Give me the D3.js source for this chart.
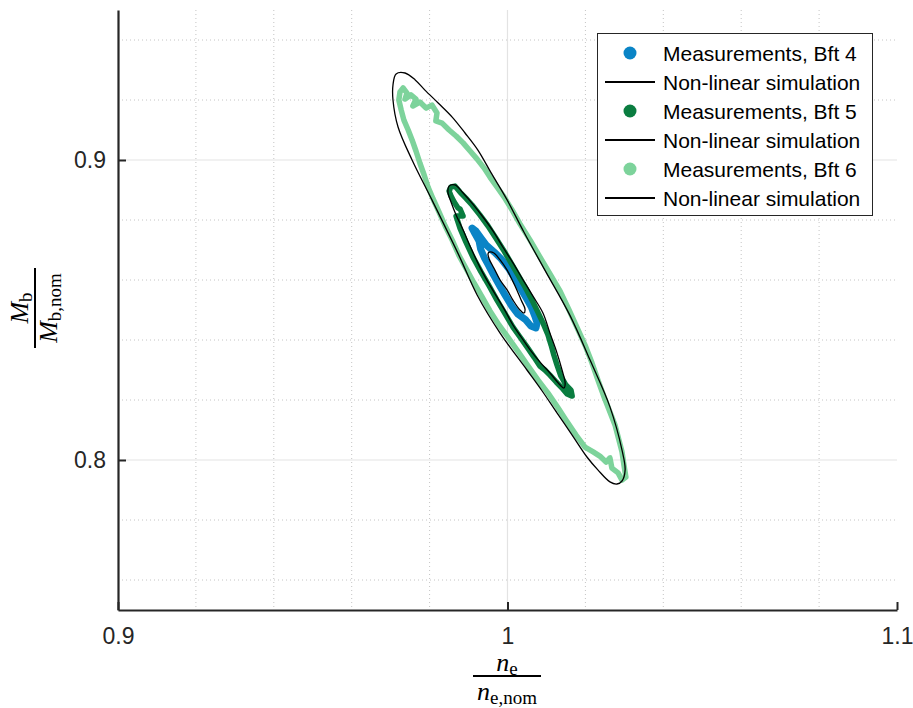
<!DOCTYPE html>
<html><head><meta charset="utf-8">
<script src="https://cdn.jsdelivr.net/npm/d3@7"></script>
<style>body{margin:0;background:#fff} svg{display:block}</style>
</head><body>
<svg id="chart" width="913" height="708"></svg>
<script>
// ---------- data ----------
const xTicks = [0.9, 1.0, 1.1];
const xTickLabels = ["0.9", "1", "1.1"];
const yTicks = [0.8, 0.9];
const yTickLabels = ["0.8", "0.9"];
const xMinor = [0.92, 0.94, 0.96, 0.98, 1.02, 1.04, 1.06, 1.08];
const yMinor = [0.76, 0.78, 0.82, 0.84, 0.86, 0.88, 0.92, 0.94];
const legendLabels = ["Measurements, Bft 4", "Non-linear simulation", "Measurements, Bft 5", "Non-linear simulation", "Measurements, Bft 6", "Non-linear simulation"];
const measColors = ["#0a84c6", "#0a7d40", "#7dd39b"];

// Measurements Bft 4 (n_e/n_e,nom, M_b/M_b,nom)
const meas4 = [[0.9909,0.8773],[0.9919,0.8763],[0.9932,0.8740],[0.9945,0.8717],[0.9966,0.8693],[0.9984,0.8670],[1.0002,0.8640],[1.0018,0.8607],[1.0033,0.8573],[1.0048,0.8540],[1.0061,0.8510],[1.0070,0.8480],[1.0076,0.8457],[1.0073,0.8440],[1.0060,0.8447],[1.0047,0.8467],[1.0026,0.8487],[1.0011,0.8513],[0.9995,0.8547],[0.9980,0.8580],[0.9964,0.8617],[0.9952,0.8647],[0.9941,0.8673],[0.9931,0.8703],[0.9927,0.8730],[0.9917,0.8753]];
// Non-linear simulation Bft 4
const sim4 = [[0.9953,0.8693],[0.9965,0.8690],[0.9981,0.8667],[0.9999,0.8633],[1.0012,0.8600],[1.0024,0.8567],[1.0035,0.8533],[1.0045,0.8503],[1.0042,0.8490],[1.0032,0.8500],[1.0014,0.8533],[0.9999,0.8567],[0.9981,0.8600],[0.9965,0.8640],[0.9953,0.8670],[0.9950,0.8687]];
// Measurements Bft 5
const meas5 = [[0.9855,0.8910],[0.9865,0.8913],[0.9878,0.8893],[0.9893,0.8873],[0.9909,0.8850],[0.9929,0.8817],[0.9950,0.8780],[0.9970,0.8740],[0.9991,0.8697],[1.0009,0.8657],[1.0027,0.8617],[1.0045,0.8577],[1.0063,0.8533],[1.0078,0.8493],[1.0091,0.8457],[1.0104,0.8417],[1.0112,0.8383],[1.0119,0.8350],[1.0127,0.8317],[1.0137,0.8280],[1.0150,0.8250],[1.0163,0.8233],[1.0166,0.8213],[1.0153,0.8220],[1.0142,0.8237],[1.0125,0.8260],[1.0109,0.8283],[1.0096,0.8300],[1.0083,0.8313],[1.0068,0.8343],[1.0050,0.8377],[1.0032,0.8410],[1.0014,0.8443],[0.9994,0.8487],[0.9973,0.8533],[0.9953,0.8580],[0.9932,0.8627],[0.9911,0.8677],[0.9893,0.8727],[0.9878,0.8773],[0.9868,0.8813],[0.9886,0.8813],[0.9878,0.8837],[0.9873,0.8840],[0.9863,0.8860],[0.9855,0.8880],[0.9850,0.8897]];
// Non-linear simulation Bft 5
const sim5 = [[0.9850,0.8913],[0.9865,0.8917],[0.9886,0.8890],[0.9911,0.8853],[0.9937,0.8810],[0.9963,0.8763],[0.9988,0.8710],[1.0014,0.8657],[1.0040,0.8600],[1.0065,0.8547],[1.0091,0.8490],[1.0109,0.8423],[1.0127,0.8357],[1.0140,0.8300],[1.0148,0.8257],[1.0145,0.8240],[1.0135,0.8250],[1.0109,0.8290],[1.0083,0.8327],[1.0058,0.8367],[1.0035,0.8410],[1.0014,0.8450],[0.9994,0.8497],[0.9973,0.8543],[0.9950,0.8593],[0.9929,0.8643],[0.9906,0.8707],[0.9886,0.8767],[0.9868,0.8817],[0.9855,0.8860],[0.9847,0.8893]];
// Measurements Bft 6
const meas6 = [[0.9721,0.9200],[0.9724,0.9227],[0.9732,0.9240],[0.9742,0.9223],[0.9737,0.9203],[0.9752,0.9217],[0.9765,0.9203],[0.9757,0.9180],[0.9775,0.9193],[0.9791,0.9173],[0.9806,0.9183],[0.9819,0.9157],[0.9816,0.9130],[0.9832,0.9123],[0.9850,0.9100],[0.9868,0.9080],[0.9886,0.9057],[0.9904,0.9030],[0.9922,0.9003],[0.9940,0.8973],[0.9955,0.8943],[0.9973,0.8910],[0.9991,0.8877],[1.0012,0.8833],[1.0032,0.8787],[1.0058,0.8733],[1.0083,0.8677],[1.0109,0.8620],[1.0135,0.8563],[1.0158,0.8500],[1.0178,0.8443],[1.0199,0.8383],[1.0217,0.8323],[1.0232,0.8267],[1.0248,0.8210],[1.0263,0.8160],[1.0276,0.8117],[1.0286,0.8067],[1.0294,0.8027],[1.0299,0.7983],[1.0304,0.7943],[1.0294,0.7933],[1.0284,0.7957],[1.0268,0.7973],[1.0263,0.8007],[1.0253,0.7993],[1.0237,0.8013],[1.0220,0.8027],[1.0199,0.8043],[1.0176,0.8083],[1.0150,0.8133],[1.0130,0.8173],[1.0104,0.8223],[1.0078,0.8267],[1.0053,0.8313],[1.0024,0.8367],[0.9999,0.8413],[0.9978,0.8450],[0.9955,0.8497],[0.9935,0.8543],[0.9914,0.8590],[0.9893,0.8640],[0.9875,0.8683],[0.9858,0.8733],[0.9840,0.8780],[0.9824,0.8827],[0.9809,0.8870],[0.9796,0.8910],[0.9786,0.8950],[0.9775,0.8990],[0.9765,0.9030],[0.9755,0.9067],[0.9745,0.9100],[0.9734,0.9133],[0.9727,0.9167]];
// Non-linear simulation Bft 6
const sim6 = [[0.9714,0.9287],[0.9737,0.9290],[0.9763,0.9267],[0.9788,0.9233],[0.9822,0.9190],[0.9858,0.9143],[0.9891,0.9090],[0.9924,0.9033],[0.9958,0.8957],[0.9999,0.8867],[1.0042,0.8760],[1.0096,0.8633],[1.0160,0.8483],[1.0212,0.8333],[1.0263,0.8177],[1.0294,0.8033],[1.0302,0.7967],[1.0294,0.7930],[1.0281,0.7920],[1.0263,0.7927],[1.0232,0.7967],[1.0204,0.8010],[1.0166,0.8083],[1.0127,0.8157],[1.0089,0.8230],[1.0050,0.8300],[0.9981,0.8423],[0.9922,0.8550],[0.9875,0.8683],[0.9806,0.8867],[0.9755,0.9000],[0.9719,0.9110],[0.9706,0.9200],[0.9706,0.9250]];

// ---------- chart ----------
const svg = d3.select("#chart");
const x = d3.scaleLinear().domain([0.9, 1.1]).range([118, 897]);
const y = d3.scaleLinear().domain([0.75, 0.95]).range([610, 10]);
const [x0, x1] = x.range(), [y0, y1] = y.range();

// grid
const grid = svg.append("g");
grid.selectAll(".vmin").data(xMinor).join("line")
  .attr("x1", d => x(d)).attr("x2", d => x(d)).attr("y1", y1).attr("y2", y0)
  .attr("stroke", "#c4c4c4").attr("stroke-width", 1).attr("stroke-dasharray", "1,3");
grid.selectAll(".hmin").data(yMinor).join("line")
  .attr("x1", x0).attr("x2", x1).attr("y1", d => y(d)).attr("y2", d => y(d))
  .attr("stroke", "#c4c4c4").attr("stroke-width", 1).attr("stroke-dasharray", "1,3");
grid.selectAll(".vmaj").data([1.0]).join("line")
  .attr("x1", d => x(d)).attr("x2", d => x(d)).attr("y1", y1).attr("y2", y0)
  .attr("stroke", "#e3e3e3").attr("stroke-width", 1.2);
grid.selectAll(".hmaj").data(yTicks).join("line")
  .attr("x1", x0).attr("x2", x1).attr("y1", d => y(d)).attr("y2", d => y(d))
  .attr("stroke", "#e3e3e3").attr("stroke-width", 1.2);

// data
const measLine = d3.line().x(d => x(d[0])).y(d => y(d[1])).curve(d3.curveLinearClosed);
const simLine = d3.line().x(d => x(d[0])).y(d => y(d[1])).curve(d3.curveCatmullRomClosed.alpha(0.5));
const meas = [meas4, meas5, meas6];
const sims = [sim4, sim5, sim6];
const widths = [7, 5.5, 5.5];
meas.forEach((m, i) => {
  svg.append("path").attr("d", measLine(m)).attr("fill", "none")
    .attr("stroke", measColors[i]).attr("stroke-width", widths[i])
    .attr("stroke-linejoin", "round").attr("stroke-linecap", "round");
});
sims.forEach(s => {
  svg.append("path").attr("d", simLine(s)).attr("fill", "none")
    .attr("stroke", "#000").attr("stroke-width", 1.3);
});

// axes
const xAxis = d3.axisBottom(x).tickValues(xTicks).tickFormat((d, i) => xTickLabels[i]).tickSize(-8).tickSizeOuter(0).tickPadding(18);
const yAxis = d3.axisLeft(y).tickValues(yTicks).tickFormat((d, i) => yTickLabels[i]).tickSize(-8).tickSizeOuter(0).tickPadding(12);
const gx = svg.append("g").attr("transform", `translate(0,${y0})`).call(xAxis);
const gy = svg.append("g").attr("transform", `translate(${x0},0)`).call(yAxis);
[gx, gy].forEach(g => {
  g.select(".domain").attr("stroke", "#262626").attr("stroke-width", 2.2);
  g.selectAll(".tick line").attr("stroke", "#262626").attr("stroke-width", 2);
  g.selectAll(".tick text").attr("fill", "#262626")
    .style("font-family", "'Liberation Sans', Arial, sans-serif").style("font-size", "23px");
});

// axis labels (fractions)
const serif = "'Liberation Serif', 'Times New Roman', serif";
function frac(g, num, den, barLen, numY, denY) {
  g.append("line").attr("x1", -barLen / 2).attr("x2", barLen / 2).attr("y1", 0).attr("y2", 0)
    .attr("stroke", "#000").attr("stroke-width", 2);
  const tn = g.append("text").attr("x", 0).attr("y", numY).attr("text-anchor", "middle")
    .style("font-family", serif).style("font-size", "26px");
  tn.append("tspan").style("font-style", "italic").text(num[0]);
  tn.append("tspan").attr("dy", 4).style("font-size", "19px").text(num[1]);
  const td = g.append("text").attr("x", 0).attr("y", denY).attr("text-anchor", "middle")
    .style("font-family", serif).style("font-size", "26px");
  td.append("tspan").style("font-style", "italic").text(den[0]);
  td.append("tspan").attr("dy", 4).style("font-size", "19px").text(den[1]);
}
frac(svg.append("g").attr("transform", "translate(507,676)"), ["n", "e"], ["n", "e,nom"], 68, -5, 24);
frac(svg.append("g").attr("transform", "translate(35,308) rotate(-90)"), ["M", "b"], ["M", "b,nom"], 80, -7, 22);

// legend
const lg = svg.append("g");
lg.append("rect").attr("x", 597.5).attr("y", 33.5).attr("width", 275).attr("height", 182)
  .attr("fill", "#fff").attr("stroke", "#262626").attr("stroke-width", 1);
const rowY = d3.scaleLinear().domain([0, 5]).range([53, 198]);
legendLabels.forEach((lab, i) => {
  const yy = rowY(i);
  if (i % 2 === 0) {
    lg.append("circle").attr("cx", 630).attr("cy", yy).attr("r", 6.5).attr("fill", measColors[i / 2]);
  } else {
    lg.append("line").attr("x1", 605).attr("x2", 655).attr("y1", yy).attr("y2", yy)
      .attr("stroke", "#000").attr("stroke-width", 2);
  }
  lg.append("text").attr("x", 663).attr("y", yy).attr("dy", "0.36em")
    .style("font-family", "'Liberation Sans', Arial, sans-serif").style("font-size", "21px")
    .attr("fill", "#000").text(lab);
});
</script>
</body></html>
